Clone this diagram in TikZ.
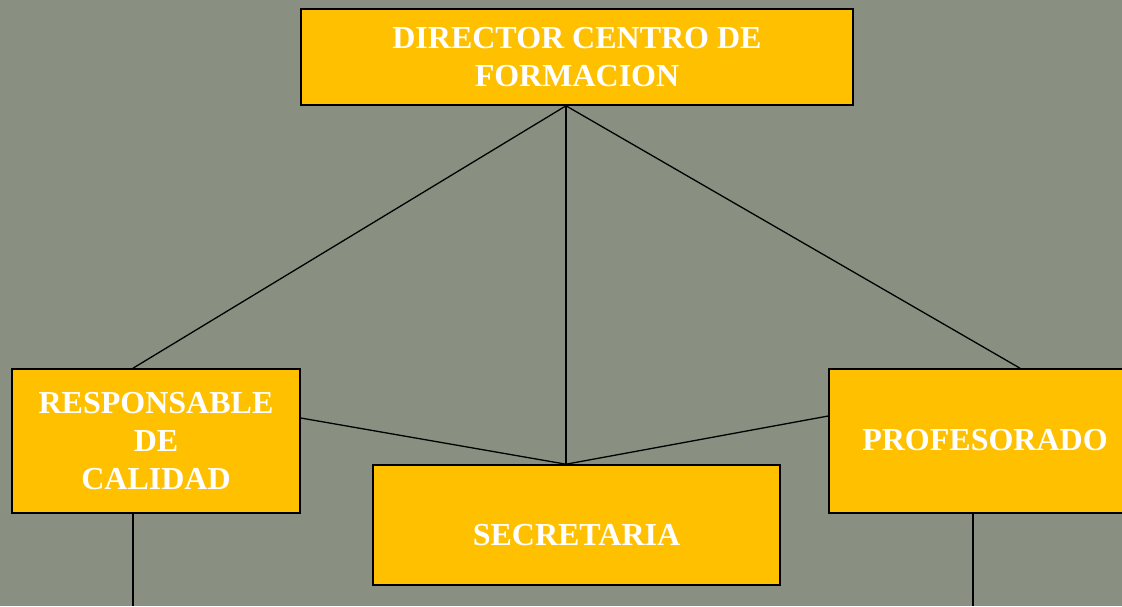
\documentclass[tikz,border=0pt]{standalone}
\usepackage{fontspec}
\setmainfont{Liberation Serif}
\definecolor{bgcol}{HTML}{899082}
\definecolor{boxcol}{HTML}{FFC000}
\begin{document}
\begin{tikzpicture}[x=1pt,y=-1pt,
  orgbox/.style={draw=black,line width=1.6pt,fill=boxcol,inner sep=0pt,
    text=white,font=\bfseries\fontsize{32}{38}\selectfont,align=center},
  link/.style={draw=black,line width=1.3pt}]
\fill[bgcol] (0,0) rectangle (1122,606);
\useasboundingbox (0,0) rectangle (1122,606);
\node[orgbox,minimum width=552pt,minimum height=96pt] (dir) at (577,57)
  {\fontsize{32}{37}\selectfont DIRECTOR CENTRO DE\\FORMACION};
\node[orgbox,minimum width=288pt,minimum height=144pt] (resp) at (156,441)
  {RESPONSABLE\\DE\\CALIDAD};
\node[orgbox,minimum width=407pt,minimum height=120pt] (sec) at (576.5,525)
  {\raisebox{-10pt}[\height][\depth]{SECRETARIA}};
\node[orgbox,minimum width=312pt,minimum height=144pt] (prof) at (985,441)
  {\raisebox{1pt}[\height][\depth]{PROFESORADO}};
\coordinate (respend) at (133,606);
\coordinate (profend) at (973,606);
\draw[link] ([xshift=-11pt]dir.south) -- ([xshift=-23pt]resp.north);
\draw[link] ([xshift=-11pt]dir.south) -- ([xshift=-10.5pt]sec.north);
\draw[link] ([xshift=-11pt]dir.south) -- ([xshift=35pt]prof.north);
\draw[link] ([yshift=23pt]resp.east) -- ([xshift=-10.5pt]sec.north);
\draw[link] ([yshift=25pt]prof.west) -- ([xshift=-10.5pt]sec.north);
\draw[link] ([xshift=-23pt]resp.south) -- (respend);
\draw[link] ([xshift=-12pt]prof.south) -- (profend);
\end{tikzpicture}
\end{document}
